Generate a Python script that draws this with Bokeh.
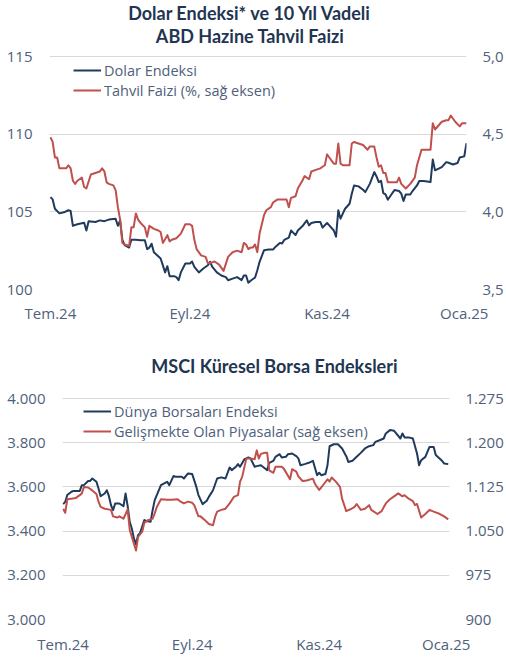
from bokeh.plotting import figure
from bokeh.models import Range1d, LinearAxis, FixedTicker, Legend, LegendItem, Label
from bokeh.embed import file_html
from bokeh.resources import INLINE

# ---------------- data (x = days since 1 Jul 2024) ----------------
month_ticks = [0, 62, 123, 184]
month_labels = ["Tem.24", "Eyl.24", "Kas.24", "Oca.25"]

dxy_day = [0, 1, 2, 4, 6, 8, 9, 10, 12, 15, 16, 17, 20, 22, 24, 26, 29, 30, 31, 32, 33, 35, 36, 38, 40,
           42, 43, 44, 45, 46, 49, 50, 51, 52, 53, 55, 56, 57, 58, 60, 62, 63, 64, 66, 68, 70, 71, 72, 74,
           76, 78, 79, 81, 83, 85, 86, 87, 88, 89, 91, 92, 93, 95, 97, 99, 100, 102, 103, 104, 106, 107,
           109, 110, 112, 114, 115, 116, 118, 120, 121, 123, 124, 126, 127, 128, 129, 130, 131, 133, 134,
           135, 137, 139, 140, 142, 144, 145, 146, 147, 148, 149, 150, 152, 153, 155, 156, 157, 158, 160,
           161, 163, 164, 166, 169, 170, 171, 174, 176, 177, 179, 181, 182, 184, 185]
dxy_val = [105.95, 105.8, 105.2, 104.9, 104.97, 105.1, 105.05, 104.1, 104.2, 104.3, 103.8, 104.4, 104.35,
           104.45, 104.4, 104.5, 104.55, 104.1, 104.45, 103.2, 102.85, 102.7, 103.2, 103.2, 103.17, 103.17,
           102.6, 102.7, 102.95, 102.4, 102.0, 101.55, 101.1, 101.5, 100.86, 100.86, 100.8, 100.6, 101.1,
           101.67, 101.67, 101.8, 101.45, 101.1, 101.35, 101.56, 101.78, 101.45, 101.1, 100.9, 100.8, 100.6,
           100.7, 100.8, 100.6, 100.9, 100.9, 100.43, 100.56, 100.77, 101.24, 101.78, 102.53, 102.57, 102.57,
           102.74, 103.0, 102.96, 103.2, 103.34, 103.8, 103.5, 103.8, 104.07, 104.45, 104.13, 104.28, 104.35,
           104.35, 103.98, 104.28, 104.13, 103.8, 103.4, 105.1, 104.56, 104.88, 105.2, 105.52, 106.17, 106.7,
           106.64, 106.42, 106.27, 106.8, 107.56, 107.28, 106.92, 107.0, 106.2, 106.12, 105.78, 106.2, 106.4,
           106.34, 106.17, 105.7, 106.12, 106.12, 106.34, 106.7, 106.98, 106.98, 106.92, 108.37, 107.67,
           107.88, 108.2, 108.16, 108.05, 108.14, 108.5, 108.57, 109.42]

yld_day = [0, 1, 2, 3, 4, 6, 7, 8, 9, 10, 11, 12, 14, 15, 16, 18, 20, 22, 23, 24, 25, 26, 28, 29, 30, 31,
           32, 33, 35, 36, 37, 38, 39, 40, 42, 43, 44, 46, 48, 49, 50, 52, 53, 54, 56, 58, 60, 62, 63, 64,
           65, 67, 69, 70, 71, 73, 75, 77, 79, 81, 83, 85, 86, 87, 88, 89, 90, 91, 92, 93, 95, 96, 98, 99,
           101, 103, 105, 106, 107, 109, 110, 112, 113, 115, 116, 118, 120, 121, 122, 123, 124, 126, 127,
           128, 129, 130, 133, 134, 135, 137, 139, 141, 142, 144, 145, 146, 147, 148, 149, 150, 152, 154,
           155, 156, 158, 160, 162, 163, 165, 167, 169, 170, 171, 174, 176, 177, 178, 180, 182, 183, 185]
yld_val = [4.48, 4.45, 4.35, 4.35, 4.28, 4.28, 4.28, 4.30, 4.28, 4.20, 4.18, 4.20, 4.22, 4.16, 4.15, 4.24,
           4.25, 4.26, 4.28, 4.26, 4.19, 4.18, 4.17, 4.14, 4.03, 3.95, 3.80, 3.79, 3.78, 3.90, 3.90, 3.99,
           3.95, 3.93, 3.90, 3.84, 3.91, 3.89, 3.88, 3.87, 3.80, 3.85, 3.81, 3.82, 3.83, 3.86, 3.92, 3.92,
           3.91, 3.82, 3.76, 3.72, 3.71, 3.67, 3.67, 3.68, 3.66, 3.62, 3.71, 3.74, 3.75, 3.74, 3.80, 3.79,
           3.76, 3.77, 3.77, 3.79, 3.74, 3.86, 3.98, 4.01, 4.03, 4.06, 4.08, 4.08, 4.08, 4.03, 4.09, 4.10,
           4.15, 4.20, 4.23, 4.21, 4.26, 4.27, 4.28, 4.29, 4.30, 4.37, 4.35, 4.31, 4.31, 4.44, 4.31, 4.30,
           4.30, 4.44, 4.45, 4.44, 4.43, 4.40, 4.42, 4.42, 4.35, 4.29, 4.30, 4.25, 4.25, 4.19, 4.19, 4.19,
           4.22, 4.18, 4.15, 4.18, 4.22, 4.30, 4.40, 4.40, 4.40, 4.57, 4.53, 4.58, 4.59, 4.59, 4.62, 4.58,
           4.55, 4.57, 4.57]

world_day = [0, 1, 2, 4, 5, 8, 9, 10, 12, 13, 14, 16, 17, 18, 20, 21, 22, 23, 24, 25, 27, 29, 30, 31, 32,
             33, 34, 35, 36, 37, 39, 40, 42, 43, 44, 46, 47, 49, 50, 51, 53, 54, 57, 58, 60, 62, 64, 65, 67,
             69, 70, 72, 74, 76, 78, 80, 81, 83, 84, 85, 87, 89, 90, 92, 93, 95, 97, 98, 99, 101, 102, 104,
             105, 107, 108, 110, 112, 113, 114, 116, 118, 120, 122, 123, 124, 126, 127, 128, 130, 132, 134,
             136, 137, 139, 141, 143, 145, 147, 149, 150, 152, 154, 155, 157, 159, 160, 162, 163, 164, 166,
             168, 170, 171, 172, 174, 176, 178, 179, 182, 183, 185]
world_val = [3522, 3532, 3563, 3578, 3582, 3582, 3608, 3608, 3627, 3627, 3638, 3623, 3593, 3558, 3570, 3585,
             3558, 3517, 3495, 3525, 3525, 3513, 3570, 3513, 3442, 3412, 3367, 3341, 3382, 3392, 3450, 3446,
             3442, 3495, 3540, 3585, 3608, 3618, 3623, 3608, 3649, 3646, 3646, 3638, 3661, 3658, 3600, 3563,
             3522, 3537, 3555, 3585, 3638, 3643, 3638, 3688, 3676, 3691, 3703, 3691, 3724, 3733, 3729, 3691,
             3694, 3698, 3683, 3676, 3709, 3718, 3736, 3748, 3733, 3736, 3748, 3751, 3739, 3729, 3698, 3703,
             3709, 3718, 3653, 3664, 3653, 3658, 3698, 3784, 3793, 3793, 3774, 3739, 3713, 3718, 3736, 3754,
             3774, 3784, 3789, 3804, 3811, 3819, 3842, 3857, 3854, 3842, 3819, 3842, 3824, 3824, 3819, 3751,
             3698, 3721, 3736, 3781, 3781, 3744, 3718, 3706, 3703]

em_day = [0, 1, 2, 4, 6, 8, 9, 10, 12, 14, 16, 17, 18, 20, 23, 24, 26, 27, 29, 31, 32, 33, 35, 36, 38, 39,
          41, 43, 44, 45, 47, 50, 52, 55, 56, 58, 60, 62, 63, 65, 66, 68, 70, 72, 73, 74, 76, 78, 80, 82, 84,
          85, 86, 88, 90, 92, 93, 94, 95, 97, 98, 99, 101, 102, 105, 106, 109, 110, 112, 113, 115, 117, 120,
          121, 123, 124, 127, 128, 129, 131, 133, 134, 136, 138, 140, 141, 143, 145, 147, 148, 151, 153, 155,
          157, 159, 161, 163, 164, 166, 168, 169, 170, 172, 174, 176, 178, 181, 183, 185]
em_val = [1088, 1081, 1104, 1105, 1106, 1111, 1114, 1125, 1124, 1119, 1113, 1100, 1091, 1088, 1086, 1075,
          1073, 1075, 1071, 1087, 1052, 1040, 1017, 1040, 1049, 1064, 1069, 1071, 1080, 1091, 1104, 1103,
          1103, 1104, 1101, 1097, 1100, 1098, 1094, 1075, 1075, 1069, 1062, 1060, 1074, 1083, 1086, 1088,
          1097, 1108, 1111, 1134, 1142, 1173, 1173, 1172, 1187, 1173, 1181, 1183, 1183, 1153, 1149, 1159,
          1159, 1156, 1138, 1155, 1151, 1143, 1135, 1136, 1139, 1130, 1120, 1124, 1138, 1134, 1141, 1134,
          1125, 1105, 1084, 1087, 1091, 1096, 1086, 1088, 1094, 1086, 1079, 1084, 1097, 1104, 1109, 1114,
          1109, 1111, 1105, 1101, 1094, 1096, 1073, 1079, 1086, 1083, 1079, 1075, 1070]

top_left_ticks = [100, 105, 110, 115]
top_left_labels = ["100", "105", "110", "115"]
top_right_ticks = [3.5, 4.0, 4.5, 5.0]
top_right_labels = ["3,5", "4,0", "4,5", "5,0"]
bot_left_ticks = [3000, 3200, 3400, 3600, 3800, 4000]
bot_left_labels = ["3.000", "3.200", "3.400", "3.600", "3.800", "4.000"]
bot_right_ticks = [900, 975, 1050, 1125, 1200, 1275]
bot_right_labels = ["900", "975", "1.050", "1.125", "1.200", "1.275"]

top_title = ["Dolar Endeksi* ve 10 Yıl Vadeli", "ABD Hazine Tahvil Faizi"]
bot_title = "MSCI Küresel Borsa Endeksleri"

# ---------------- styles ----------------
NAVY = "#1f3a5c"
RED = "#c0504d"
TXT = "#4f617b"
TITLE_C = "#1f3552"
GRID = "#d9d9d9"
FONT = "Open Sans"
TFONT = "Lato"
W = 506


def style_axis(ax, ticks, labels, standoff):
    ax.ticker = FixedTicker(ticks=ticks)
    ax.major_label_overrides = dict(zip(ticks, labels))
    ax.axis_line_color = None
    ax.major_tick_line_color = None
    ax.minor_tick_line_color = None
    ax.major_tick_out = 0
    ax.major_tick_in = 0
    ax.minor_tick_out = 0
    ax.minor_tick_in = 0
    ax.major_label_standoff = standoff
    ax.major_label_text_font = FONT
    ax.major_label_text_font_size = "15px"
    ax.major_label_text_color = TXT


def make_fig(height, xr, lo, hi, lo2, hi2, data_px, frame_px, borders):
    # the frame spans the whole height above the x axis; the space above the
    # top gridline holds the title, so both ranges are extended proportionally
    ext = frame_px / data_px
    yr = Range1d(lo, lo + (hi - lo) * ext)
    yr2 = Range1d(lo2, lo2 + (hi2 - lo2) * ext)
    p = figure(width=W, height=height, x_range=xr, y_range=yr,
               output_backend="svg", toolbar_location=None, title_location=None,
               min_border_left=borders[0], min_border_right=borders[1],
               min_border_top=0, min_border_bottom=borders[2])
    p.extra_y_ranges = {"r": yr2}
    p.outline_line_color = None
    p.xgrid.visible = False
    p.ygrid.grid_line_color = GRID
    p.ygrid.grid_line_width = 1
    p.background_fill_color = "white"
    p.border_fill_color = "white"
    return p


def style_legend(p, items, loc):
    lg = Legend(items=items, location=loc)
    lg.border_line_color = None
    lg.background_fill_alpha = 0
    lg.padding = 0
    lg.margin = 0
    lg.spacing = 0
    lg.glyph_width = 28
    lg.glyph_height = 20
    lg.label_height = 20
    lg.label_standoff = 3
    lg.label_text_font = FONT
    lg.label_text_font_size = "14.5px"
    lg.label_text_color = TXT
    p.add_layout(lg)


def add_title(p, text, x, y):
    p.add_layout(Label(x=x, y=y, text=text, text_align="center", text_baseline="middle",
                       text_font=TFONT, text_font_size="18px", text_font_style="bold",
                       text_color=TITLE_C))


# ---------------- top chart ----------------
# figure: page y 0..330, frame 0..289, gridline 115 at y=56
p1 = make_fig(330, Range1d(-0.4, 185), 100, 115, 3.5, 5.0, 233, 289, (49, 37, 41))
ppu1 = 233 / 15.0  # px per unit
add_title(p1, top_title[0], 88.8, 100 + (289 - 12.5) / ppu1)
add_title(p1, top_title[1], 88.8, 100 + (289 - 35) / ppu1)

r1 = p1.line(dxy_day, dxy_val, line_color=NAVY, line_width=2, line_join="round")
r2 = p1.line(yld_day, yld_val, line_color=RED, line_width=2, line_join="round", y_range_name="r")

style_axis(p1.yaxis[0], top_left_ticks, top_left_labels, 17)
p1.ygrid.ticker = FixedTicker(ticks=top_left_ticks)
ax_r1 = LinearAxis(y_range_name="r")
style_axis(ax_r1, top_right_ticks, top_right_labels, 16)
p1.add_layout(ax_r1, "right")
style_axis(p1.xaxis[0], month_ticks, month_labels, 13)

style_legend(p1, [LegendItem(label="Dolar Endeksi", renderers=[r1]),
                  LegendItem(label="Tahvil Faizi (%, sağ eksen)", renderers=[r2])], (24, 189))

# ---------------- bottom chart ----------------
# figure: page y 330..657, frame 330..619, gridline 4000 at y=398
p2 = make_fig(327, Range1d(-0.3, 185.6), 3000, 4000, 900, 1275, 221, 289, (62, 54, 38))
ppu2 = 221 / 1000.0
add_title(p2, bot_title, 101.5, 3000 + (619 - 365) / ppu2)

r3 = p2.line(world_day, world_val, line_color=NAVY, line_width=2, line_join="round")
r4 = p2.line(em_day, em_val, line_color=RED, line_width=2, line_join="round", y_range_name="r")

style_axis(p2.yaxis[0], bot_left_ticks, bot_left_labels, 17)
p2.ygrid.ticker = FixedTicker(ticks=bot_left_ticks)
ax_r2 = LinearAxis(y_range_name="r")
style_axis(ax_r2, bot_right_ticks, bot_right_labels, 16)
p2.add_layout(ax_r2, "right")
style_axis(p2.xaxis[0], month_ticks, month_labels, 14)

style_legend(p2, [LegendItem(label="Dünya Borsaları Endeksi", renderers=[r3]),
                  LegendItem(label="Gelişmekte Olan Piyasalar (sağ eksen)", renderers=[r4])], (21, 178))

# two independent roots, so that each chart keeps its own frame position
open("out.html", "w").write(file_html([p1, p2], INLINE))
